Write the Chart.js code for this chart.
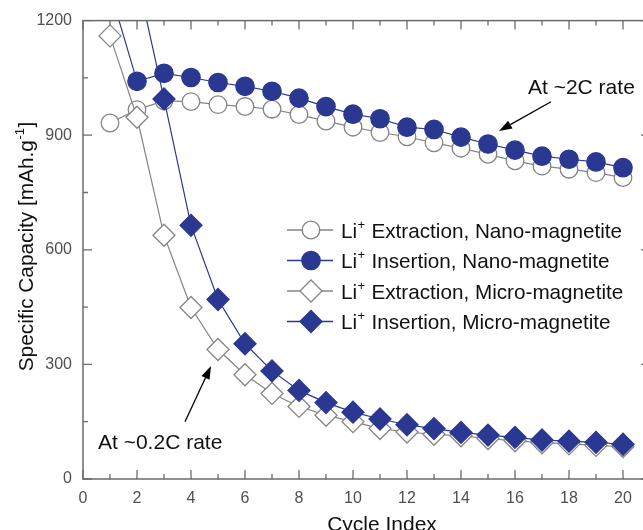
<!DOCTYPE html>
<html><head><meta charset="utf-8">
<script src="https://cdn.jsdelivr.net/npm/chart.js@4/dist/chart.umd.min.js"></script>
<style>
html,body{margin:0;padding:0;overflow:hidden;background:#fff;width:643px;height:530px}
#wrap{width:643px;height:530px;overflow:hidden;position:relative;background:#fff}
canvas{display:block}
</style></head><body>
<div id="wrap"><canvas id="c" width="670" height="545" style="width:670px;height:545px"></canvas></div>
<script>
// ---- data ----
const cycles = [1,2,3,4,5,6,7,8,9,10,11,12,13,14,15,16,17,18,19,20];
const nanoExtraction = [932,967,990,988,980,975,968,954,937,921,907,896,880,866,850,833,819,811,802,789];
const nanoInsertion  = [1280,1041,1062,1051,1038,1028,1015,997,975,955,943,921,915,895,877,861,845,837,830,815];
const microExtraction = [1160,947,638,449,339,273,224,190,167,150,132,123,117,113,106,100,95,92,88,85];
const microInsertion  = [1650,1315,995,664,470,354,283,232,200,175,157,142,132,122,115,109,102,99,96,91];
const xTickValues = [0,2,4,6,8,10,12,14,16,18,20];
const yTickValues = [0,300,600,900,1200];
const legendLabels = [
  ['Li','+',' Extraction, Nano-magnetite'],
  ['Li','+',' Insertion, Nano-magnetite'],
  ['Li','+',' Extraction, Micro-magnetite'],
  ['Li','+',' Insertion, Micro-magnetite']
];
const xTitle = 'Cycle Index';
const yTitleParts = ['Specific Capacity [mAh.g','-1',']'];
const note2C = 'At ~2C rate';
const note02C = 'At ~0.2C rate';

// ---- styles ----
const BLUE = '#2b3891';
const GRAY = '#858585';
const AXIS = '#6b6b6b';
const FONT = '"Liberation Sans", Arial, sans-serif';

function pts(ys){ return cycles.map((c,i)=>({x:c,y:ys[i]})); }

const styles = [
  {style:'circle', radius:8.8, fill:'#ffffff', color:GRAY},
  {style:'circle', radius:9.2, fill:BLUE, color:BLUE},
  {style:'rectRot', radius:11, fill:'#ffffff', color:GRAY},
  {style:'rectRot', radius:11, fill:BLUE, color:BLUE}
];
const seriesData = [nanoExtraction, nanoInsertion, microExtraction, microInsertion];
const orders = [4,3,2,1];

const datasets = seriesData.map((d,i)=>({
  label: legendLabels[i].join(''),
  data: pts(d),
  borderColor: styles[i].color,
  backgroundColor: styles[i].fill,
  borderWidth: 1.2,
  pointStyle: styles[i].style,
  pointRadius: styles[i].radius,
  pointHoverRadius: styles[i].radius,
  pointBorderWidth: 1.3,
  pointBorderColor: styles[i].color,
  pointBackgroundColor: styles[i].fill,
  tension: 0,
  order: orders[i]
}));

function drawRich(ctx, parts, x, y, size, align){
  const big = size + 'px ' + FONT;
  const small = Math.round(size*0.62) + 'px ' + FONT;
  ctx.font = big; const w0 = ctx.measureText(parts[0]).width;
  ctx.font = small; const w1 = ctx.measureText(parts[1]).width;
  ctx.font = big; const w2 = ctx.measureText(parts[2]).width;
  let sx = x;
  if (align === 'center') sx = x - (w0+w1+w2)/2;
  ctx.textAlign = 'left'; ctx.textBaseline = 'alphabetic';
  ctx.font = big; ctx.fillText(parts[0], sx, y);
  ctx.font = small; ctx.fillText(parts[1], sx + w0 + 0.5, y - size*0.42);
  ctx.font = big; ctx.fillText(parts[2], sx + w0 + w1 + 1, y);
}

function marker(ctx, s, x, y){
  ctx.save();
  ctx.beginPath();
  if (s.style === 'circle') {
    ctx.arc(x, y, s.radius, 0, Math.PI*2);
  } else {
    const r = s.radius;
    ctx.moveTo(x-r, y); ctx.lineTo(x, y-r); ctx.lineTo(x+r, y); ctx.lineTo(x, y+r); ctx.closePath();
  }
  ctx.fillStyle = s.fill; ctx.fill();
  ctx.lineWidth = 1.3; ctx.strokeStyle = s.color; ctx.stroke();
  ctx.restore();
}

function arrow(ctx, x1, y1, x2, y2){
  const ang = Math.atan2(y2-y1, x2-x1);
  const L = 13, W = 4.5;
  const bx = x2 - L*Math.cos(ang), by = y2 - L*Math.sin(ang);
  ctx.save();
  ctx.strokeStyle = '#000'; ctx.fillStyle = '#000'; ctx.lineWidth = 1.3;
  ctx.beginPath(); ctx.moveTo(x1,y1); ctx.lineTo(bx,by); ctx.stroke();
  ctx.beginPath();
  ctx.moveTo(x2,y2);
  ctx.lineTo(bx + W*Math.sin(ang), by - W*Math.cos(ang));
  ctx.lineTo(bx - W*Math.sin(ang), by + W*Math.cos(ang));
  ctx.closePath(); ctx.fill();
  ctx.restore();
}

const decor = {
  id: 'decor',
  afterDraw(chart){
    const ctx = chart.ctx;
    const a = chart.chartArea;
    const xs = chart.scales.x, ys = chart.scales.y;
    ctx.save();
    ctx.strokeStyle = AXIS; ctx.lineWidth = 1.5;
    ctx.strokeRect(a.left, a.top, a.right-a.left, a.bottom-a.top);
    ctx.lineWidth = 1.3;
    const xStep = xTickValues[1]-xTickValues[0];
    for (let v = xs.min; v <= xs.max + 1e-9; v += xStep/2) {
      const major = xTickValues.includes(v);
      const len = major ? 9 : 5;
      const px = xs.getPixelForValue(v);
      ctx.beginPath();
      ctx.moveTo(px, a.bottom); ctx.lineTo(px, a.bottom - len);
      ctx.moveTo(px, a.top); ctx.lineTo(px, a.top + len);
      ctx.stroke();
    }
    const yStep = yTickValues[1]-yTickValues[0];
    for (let v = ys.min; v <= ys.max + 1e-9; v += yStep/2) {
      const major = yTickValues.includes(v);
      const len = major ? 9 : 5;
      const py = ys.getPixelForValue(v);
      ctx.beginPath();
      ctx.moveTo(a.left, py); ctx.lineTo(a.left + len, py);
      ctx.moveTo(a.right, py); ctx.lineTo(a.right - len, py);
      ctx.stroke();
    }
    ctx.fillStyle = '#111';
    ctx.font = '21px ' + FONT; ctx.textAlign = 'center'; ctx.textBaseline = 'alphabetic';
    ctx.fillText(xTitle, 382, 531);
    ctx.save();
    ctx.translate(33, 247); ctx.rotate(-Math.PI/2);
    drawRich(ctx, yTitleParts, 0, 0, 20.8, 'center');
    ctx.restore();
    const ly = [230, 260.5, 291, 321.5];
    for (let i = 0; i < 4; i++) {
      ctx.strokeStyle = styles[i].color; ctx.lineWidth = 1.3;
      ctx.beginPath(); ctx.moveTo(287, ly[i]); ctx.lineTo(333, ly[i]); ctx.stroke();
      marker(ctx, styles[i], 311, ly[i]);
      ctx.fillStyle = '#111';
      drawRich(ctx, legendLabels[i], 341, ly[i] + 7.5, 20.7, 'left');
    }
    ctx.fillStyle = '#111'; ctx.font = '21px ' + FONT; ctx.textAlign = 'left';
    ctx.fillText(note2C, 528, 94);
    ctx.fillText(note02C, 98, 449);
    arrow(ctx, 551, 101.7, 499, 131);
    arrow(ctx, 185, 421.7, 211, 366);
    ctx.restore();
  }
};

new Chart(document.getElementById('c'), {
  type: 'line',
  data: { datasets },
  options: {
    responsive: false,
    devicePixelRatio: 1,
    animation: false,
    events: [],
    layout: { padding: { top: 19, right: 20, left: 0, bottom: 0 } },
    plugins: { legend: { display: false }, tooltip: { enabled: false } },
    scales: {
      x: {
        type: 'linear', min: 0, max: 21,
        afterFit(s){ s.height = 66; },
        afterBuildTicks(s){ s.ticks = xTickValues.map(v=>({value:v})); },
        grid: { display: false, drawTicks: false },
        border: { display: false },
        ticks: { color: '#505050', font: { size: 16, family: FONT }, padding: 10, maxRotation: 0, autoSkip: false,
                 callback: v => String(v) }
      },
      y: {
        type: 'linear', min: 0, max: 1200,
        afterFit(s){ s.width = 83; },
        afterBuildTicks(s){ s.ticks = yTickValues.map(v=>({value:v})); },
        grid: { display: false, drawTicks: false },
        border: { display: false },
        ticks: { color: '#505050', font: { size: 16, family: FONT }, padding: 11,
                 callback: v => String(v) }
      }
    }
  },
  plugins: [decor]
});
</script>
</body></html>
